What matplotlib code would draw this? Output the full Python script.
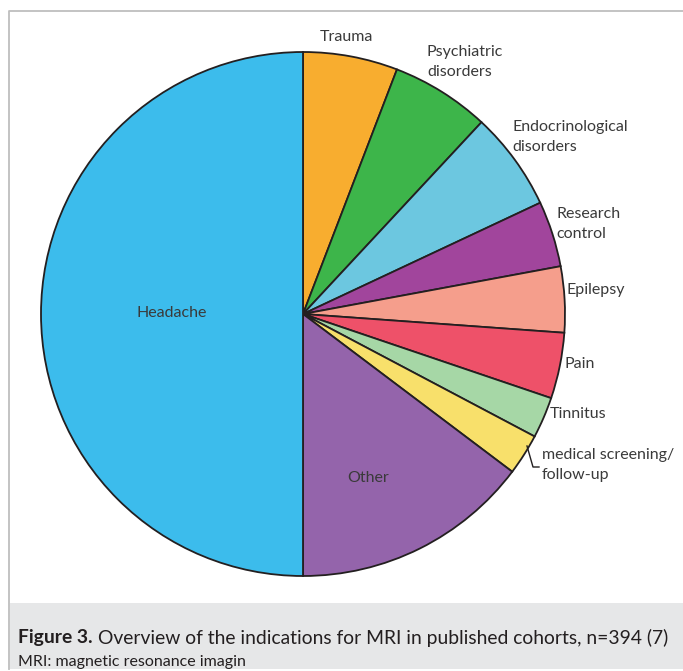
import matplotlib
matplotlib.use("Agg")
import matplotlib.pyplot as plt
from matplotlib.patches import Rectangle
from matplotlib.lines import Line2D

W, H = 683, 671

# data (counts, n=394), clockwise from 12 o'clock
categories = ["Trauma", "Psychiatric disorders", "Endocrinological disorders", "Research control",
              "Epilepsy", "Pain", "Tinnitus", "medical screening/follow-up", "Other", "Headache"]
counts = [23, 24, 24, 16, 16, 16, 10, 10, 58, 197]
colors = ["#F8AD2F", "#3DB54A", "#6CC7E0", "#A1459C", "#F59E8C", "#EE5169",
          "#A6D7A6", "#F8E06B", "#9464AB", "#3CBCEC"]

plt.rcParams["font.family"] = ["Lato", "DejaVu Sans"]


def fx(x):
    return x / W


def fy(y):
    return 1 - y / H


fig = plt.figure(figsize=(W / 100, H / 100), dpi=100)

# frame (left + top only, right side is cropped) and caption band
fig.patches.append(Rectangle((fx(9.5), fy(669)), 1, (669 - 603) / H, transform=fig.transFigure,
                             facecolor="#E6E7E8", edgecolor="none", zorder=-1))
fig.lines.append(Line2D([fx(9), fx(9), 1.0], [fy(669), fy(11), fy(11)], transform=fig.transFigure,
                        color="#BEBEBE", linewidth=1.3, zorder=-1))

cx, cy, r = 303, 314, 262
ax = fig.add_axes([fx(cx - r), fy(cy + r), 2 * r / W, 2 * r / H])
ax.set_zorder(2)
ax.pie(counts, colors=colors, startangle=90, counterclock=False,
       wedgeprops=dict(edgecolor="#231F20", linewidth=1.3))
ax.set_xlim(-1, 1)
ax.set_ylim(-1, 1)
ax.set_aspect("equal")
ax.axis("off")

lab_color = "#3a3a3a"
fs = 11.5
fig.text(fx(172), fy(313), "Headache", ha="center", va="center", fontsize=fs, color=lab_color, zorder=3)
fig.text(fx(368), fy(478), "Other", ha="center", va="center", fontsize=fs, color=lab_color, zorder=3)
fig.text(fx(346), fy(37), "Trauma", ha="center", va="center", fontsize=fs, color=lab_color, zorder=3)

side_labels = [
    (427, 62, "Psychiatric\ndisorders"),
    (512, 137, "Endocrinological\ndisorders"),
    (556, 224, "Research\ncontrol"),
    (566, 290, "Epilepsy"),
    (565, 364, "Pain"),
    (550, 414, "Tinnitus"),
    (542, 465, "medical screening/\nfollow-up"),
]
for x, y, t in side_labels:
    fig.text(fx(x), fy(y), t, ha="left", va="center", fontsize=fs, color=lab_color,
             linespacing=1.6, zorder=3)

# leader for medical screening
fig.lines.append(Line2D([fx(527), fx(533), fx(539)], [fy(446), fy(467), fy(467)],
                        transform=fig.transFigure, color="#231F20", linewidth=1.0, zorder=3))

# caption
renderer = fig.canvas.get_renderer()
t1 = fig.text(fx(18), fy(638), "Figure 3.", ha="left", va="center", fontsize=13.9,
              fontweight="bold", color="#231F20")
bb = t1.get_window_extent(renderer)
fig.text(bb.x1 / W + fx(5), fy(638), "Overview of the indications for MRI in published cohorts, n=394 (7)",
         ha="left", va="center", fontsize=13.9, color="#231F20")
fig.text(fx(18), fy(662), "MRI: magnetic resonance imagin", ha="left", va="center",
         fontsize=11.5, color="#231F20")

fig.savefig("out.png", dpi=100)
